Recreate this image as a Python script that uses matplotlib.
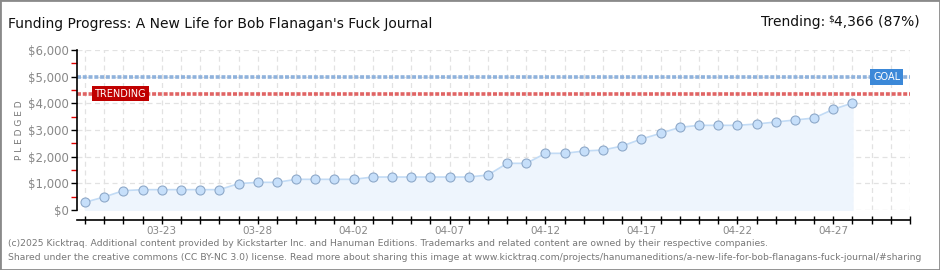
import numpy as np
import pandas as pd
import matplotlib
matplotlib.use("Agg")
import matplotlib.pyplot as plt
import matplotlib.transforms as mtransforms
from matplotlib.patches import Rectangle

# pledged total per day
dates = pd.date_range("2025-03-19", "2025-05-01", freq="D")
pledged = [290, 490, 725, 763, 763, 763, 763, 763, 988, 1037, 1037,
           1150, 1150, 1150, 1150, 1237, 1237, 1237, 1237, 1237, 1237,
           1312, 1750, 1750, 2125, 2125, 2212, 2250, 2400, 2662, 2875,
           3100, 3175, 3175, 3175, 3225, 3300, 3375, 3450, 3775, 4012]
goal = 5000
trending = 4366
title = "Funding Progress: A New Life for Bob Flanagan's Fuck Journal"
footer = ["(c)2025 Kicktraq. Additional content provided by Kickstarter Inc. and Hanuman Editions. Trademarks and related content are owned by their respective companies.",
          "Shared under the creative commons (CC BY-NC 3.0) license. Read more about sharing this image at www.kicktraq.com/projects/hanumaneditions/a-new-life-for-bob-flanagans-fuck-journal/#sharing"]

plt.rcParams['font.family'] = ['DejaVu Sans']

W, H = 940, 270
fig = plt.figure(figsize=(W / 100, H / 100), dpi=100)
fig.patches.append(Rectangle((0, 0), 1, 1, transform=fig.transFigure,
                             fill=False, edgecolor="#8a8a8a", linewidth=2))

# axes box in pixels: left 77, right 910, top 50, bottom 210
ax = fig.add_axes([77 / W, 1 - 210 / H, (910 - 77) / W, (210 - 50) / H])

x = np.arange(len(pledged))
ax.fill_between(x, pledged, 0, color="#eef5fd", zorder=1)
ax.plot(x, pledged, color="#c2dbf5", linewidth=1.2, zorder=3)
ax.plot(x, pledged, "o", markersize=6.5, markerfacecolor="#c6dffa",
        markeredgecolor="#8ea9c9", markeredgewidth=0.8, zorder=4)

ax.axhline(goal, color="#8fb2dc", linewidth=2.6, dashes=(1.1, 0.5), zorder=2)
ax.axhline(trending, color="#e06464", linewidth=2.6, dashes=(1.1, 0.5), zorder=2)

blend = mtransforms.blended_transform_factory(ax.transAxes, ax.transData)
ax.text(0.972, goal, "GOAL", transform=blend, ha="center", va="center",
        color="white", fontsize=7, zorder=6,
        bbox=dict(boxstyle="square,pad=0.3", facecolor="#3b88d8", edgecolor="none"))
ax.text(0.052, trending, "TRENDING", transform=blend, ha="center", va="center",
        color="white", fontsize=7, zorder=6,
        bbox=dict(boxstyle="square,pad=0.3", facecolor="#c00000", edgecolor="none"))

ax.set_xlim(-0.42, len(dates) - 1)
ax.set_ylim(0, 6000)

ax.set_xticks(np.arange(len(dates)))
ax.set_xticklabels([d.strftime("%m-%d") if (i - 4) % 5 == 0 else ""
                    for i, d in enumerate(dates)])
ax.set_yticks(np.arange(0, 6001, 1000))
ax.set_yticklabels(["$0"] + ["${:,}".format(v) for v in range(1000, 6001, 1000)])
ax.set_yticks(np.arange(500, 6000, 1000), minor=True)

ax.grid(True, which="major", color="#e2e2e2", linestyle=(0, (4, 3)), linewidth=0.9, zorder=0)
ax.set_axisbelow(True)

for s in ["top", "right"]:
    ax.spines[s].set_visible(False)
ax.spines["bottom"].set_position(("outward", 7.5))
ax.spines["left"].set_linewidth(1.2)
ax.spines["bottom"].set_linewidth(1.2)

ax.tick_params(axis="x", direction="inout", length=6, width=1, colors="black",
               labelcolor="#888888", labelsize=7.5, pad=1)
ax.tick_params(axis="y", which="major", direction="out", length=4, width=1,
               labelcolor="#888888", labelsize=8.5, pad=2)
ax.tick_params(axis="y", which="minor", direction="out", length=4, width=1,
               color="#e00000")

fig.text(20 / W, 1 - 130 / H, "P L E D G E D", rotation=90, ha="center", va="center",
         color="#777777", fontsize=6.5)

fig.text(8 / W, 1 - 24 / H, title, ha="left", va="center", fontsize=10, color="#111111")

# "Trending: $4,366 (87%)" with a small raised dollar sign
fig.canvas.draw()
r = fig.canvas.get_renderer()
t_amt = fig.text(920 / W, 1 - 22 / H, "4,366 (87%)", ha="right", va="center",
                 fontsize=10, color="#111111")
x0 = t_amt.get_window_extent(r).x0
t_dol = fig.text((x0 - 0.5) / W, 1 - 19 / H, "$", ha="right", va="center",
                 fontsize=6.5, color="#111111")
x1 = t_dol.get_window_extent(r).x0
fig.text((x1 - 3) / W, 1 - 22 / H, "Trending:", ha="right", va="center",
         fontsize=10, color="#111111")

fig.text(8 / W, 1 - 243 / H, footer[0], ha="left", va="center", fontsize=6.7, color="#777777")
fig.text(8 / W, 1 - 257 / H, footer[1], ha="left", va="center", fontsize=6.7, color="#777777")

fig.savefig("out.png", dpi=100)
